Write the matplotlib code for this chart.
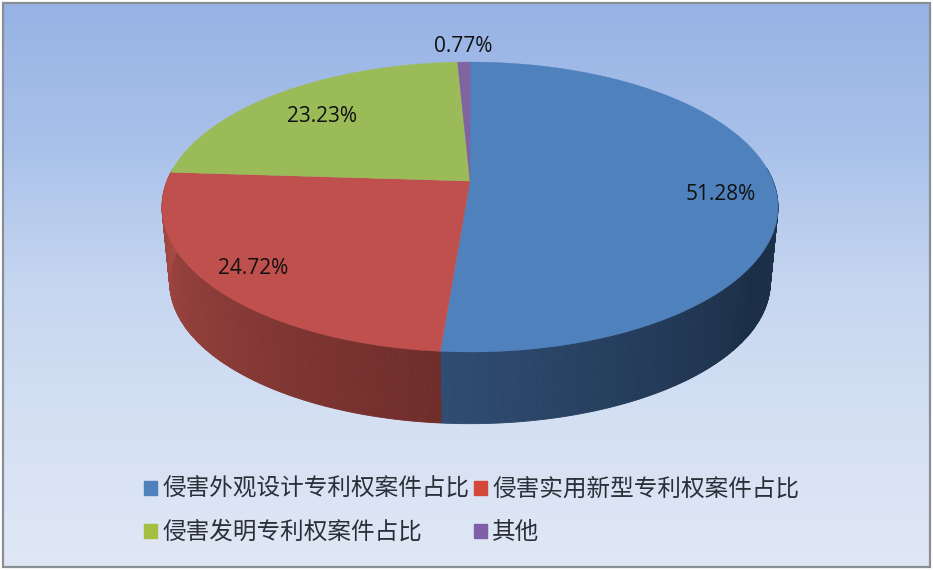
import numpy as np
import matplotlib
matplotlib.use("Agg")
import matplotlib.pyplot as plt
from matplotlib.colors import LinearSegmentedColormap
from matplotlib.patches import Rectangle

plt.rcParams['font.family'] = ['Noto Sans CJK SC', 'DejaVu Sans']

categories = ['侵害外观设计专利权案件占比', '侵害实用新型专利权案件占比', '侵害发明专利权案件占比', '其他']
values = [51.28, 24.72, 23.23, 0.77]
labels = ['51.28%', '24.72%', '23.23%', '0.77%']

top_colors = ['#4f81bd', '#c0504d', '#9bbb59', '#8064a2']
legend_colors = ['#4f81bd', '#d4483c', '#a4bf3f', '#7f5fa8']
side_ramps = [['#203550', '#203550', '#1b2e46', '#2f4c72'], ['#6f2d2a', '#a84a45'],
              ['#7a8f44', '#7a8f44'], ['#5f4a7a', '#5f4a7a']]
label_xy = [(721, 194), (253, 268), (322, 116), (463, 46)]

# projective mapping of the pie disc onto the picture
APEX = (470.0, 181.0)
A, B, K = 140.3, 303.0, 0.1793
DEPTH, SHRINK = 76.0, 0.975


def rim(theta_deg):
    th = np.radians(theta_deg)
    X, Y = np.sin(th), np.cos(th)
    d = 1 + K * Y
    return APEX[0] + B * X / d, APEX[1] - A * Y / d


def lower(x, y):
    return APEX[0] + SHRINK * (x - APEX[0]), APEX[1] + DEPTH + SHRINK * (y - APEX[1])


fig = plt.figure(figsize=(9.33, 5.71), dpi=100, facecolor='white')
ax = fig.add_axes([0, 0, 1, 1])
ax.axis('off')

bg = LinearSegmentedColormap.from_list('bg', ['#97b3e4', '#a9c1ea', '#c6d6f0', '#d5e0f3', '#e0e8f5'])
grad = np.linspace(0, 1, 256).reshape(-1, 1)
ax.imshow(grad, cmap=bg, extent=(3, 930, 567, 3), aspect='auto', zorder=0)
ax.set_xlim(0, 933)
ax.set_ylim(571, 0)
ax.add_patch(Rectangle((3, 3), 927, 564, fill=False, ec='#8a8f96', lw=1.6, zorder=1))

edges = np.concatenate([[0], np.cumsum(values)]) / sum(values) * 360

# side walls (front half only)
for i in range(len(values)):
    a0, a1 = edges[i], edges[i + 1]
    cm = LinearSegmentedColormap.from_list('s', side_ramps[i])
    n = max(2, int((a1 - a0) * 2))
    ts = np.linspace(a0, a1, n + 1)
    for j in range(n):
        if ts[j + 1] < 85 or ts[j] > 275:
            continue
        t = np.linspace(ts[j], ts[j + 1], 4)
        x, y = rim(t)
        xl, yl = lower(x, y)
        ax.fill(np.r_[x, xl[::-1]], np.r_[y, yl[::-1]], color=cm(j / max(1, n - 1)), lw=0.6, zorder=2)

# top faces
for i in range(len(values)):
    t = np.linspace(edges[i], edges[i + 1], 200)
    x, y = rim(t)
    ax.fill(np.r_[APEX[0], x], np.r_[APEX[1], y], color=top_colors[i], lw=0.3, zorder=3)

for (lx, ly), s in zip(label_xy, labels):
    ax.text(lx, ly, s, ha='center', va='center', fontsize=15, color='#101010',
            family=['Open Sans', 'DejaVu Sans'], zorder=5)

handles = [Rectangle((0, 0), 1, 1, color=c) for c in legend_colors]
order = [0, 2, 1, 3]
leg = ax.legend([handles[i] for i in order], [categories[i] for i in order], ncol=2,
                loc='upper left', bbox_to_anchor=(144 / 933, 1 - 478 / 571),
                bbox_transform=ax.transAxes, frameon=False, fontsize=17,
                handlelength=0.55, handleheight=0.55, handletextpad=0.25,
                columnspacing=0.15, labelspacing=0.85, borderpad=0, borderaxespad=0,
                labelcolor='#2b2f38')
leg.set_zorder(6)

fig.savefig('out.png', dpi=100)
